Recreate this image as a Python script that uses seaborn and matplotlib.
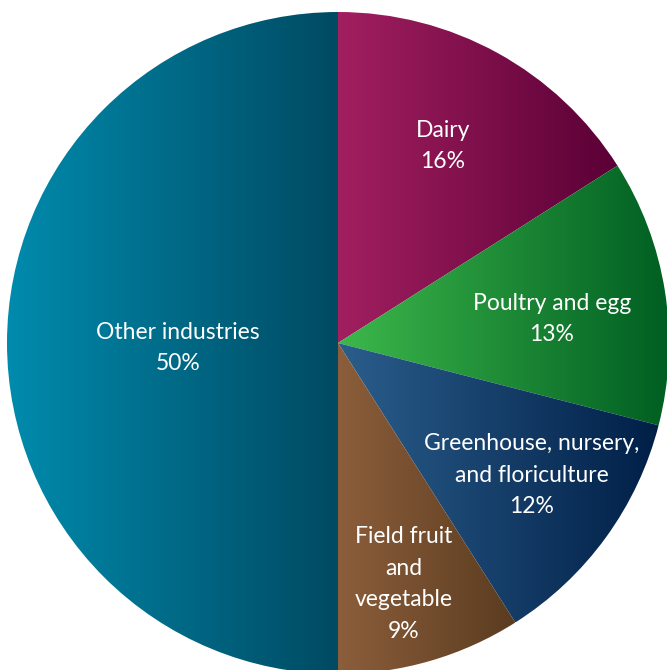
import numpy as np
import matplotlib
matplotlib.use("Agg")
import matplotlib.pyplot as plt
import seaborn as sns

# Share of output by industry
categories = ["Dairy", "Poultry and egg", "Greenhouse, nursery,\nand floriculture",
              "Field fruit\nand\nvegetable", "Other industries"]
shares = [16, 13, 12, 9, 50]

# Left (light) and right (dark) colours of each slice's horizontal gradient
light_colors = ["#A21F60", "#3DB84B", "#2B5E8C", "#8C5E3B", "#008BAD"]
dark_colors = ["#5A0036", "#005E22", "#001F47", "#5A3C20", "#004A62"]

sns.set_theme(style="white")
plt.rcParams["font.family"] = ["Lato", "DejaVu Sans"]

W, H = 667, 670
fig = plt.figure(figsize=(W / 100, H / 100), dpi=100)
ax = fig.add_axes([0, 0, 1, 1])

cx, cy, r = 338, H - 343, 331
wedges, _ = ax.pie(shares, startangle=90, counterclock=False,
                   center=(cx, cy), radius=r, frame=True,
                   wedgeprops=dict(facecolor="none", edgecolor="none"))

grad = np.linspace(0, 1, 512).reshape(1, -1)
for w, c0, c1 in zip(wedges, light_colors, dark_colors):
    cmap = sns.blend_palette([c0, c1], as_cmap=True)
    bb = w.get_path().get_extents(w.get_transform() + ax.transData.inverted())
    im = ax.imshow(grad, cmap=cmap, aspect="auto", interpolation="bilinear",
                   extent=(bb.x0, bb.x1, bb.y0, bb.y1), zorder=1)
    im.set_clip_path(w)

# Label placement (pixel coordinates from top-left)
label_pos = [(443, 146), (552, 319), (532, 475), (404, 584), (178, 348)]
for name, val, (px, py) in zip(categories, shares, label_pos):
    ax.text(px, H - py, f"{name}\n{val}%", ha="center", va="center",
            color="white", fontsize=16.5, linespacing=1.63, zorder=3)

ax.set_xlim(0, W)
ax.set_ylim(0, H)
ax.set_aspect("equal")
ax.axis("off")
fig.savefig("out.png", dpi=100, facecolor="white")
